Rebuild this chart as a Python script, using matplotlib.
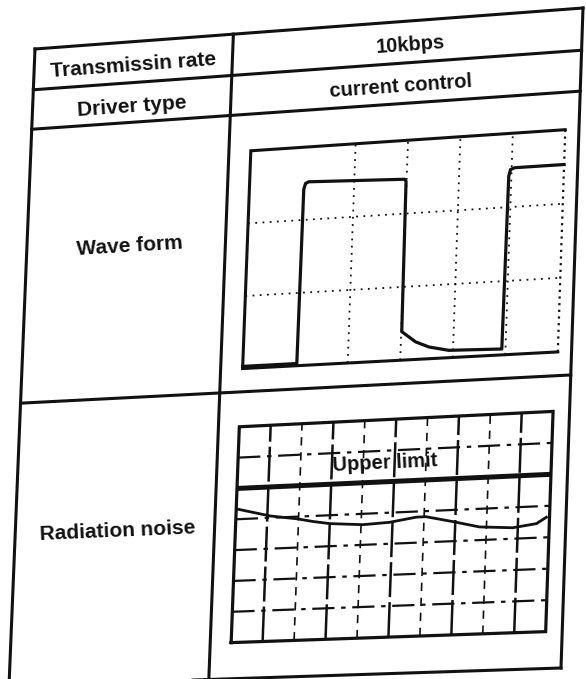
import numpy as np
import matplotlib
matplotlib.use("Agg")
import matplotlib.pyplot as plt
import matplotlib.transforms as mtransforms
from matplotlib.lines import Line2D

# ---------------- data ----------------
row_labels = ["Transmissin rate", "Driver type", "Wave form", "Radiation noise"]
header_values = ["10kbps", "current control"]

# waveform, oscilloscope divisions (6 x 3)
wave_t = [0.0, 1.03, 1.04, 1.07, 1.13, 2.96, 2.99, 3.01, 3.28, 3.54, 3.92, 4.93, 4.95, 4.98, 5.06, 6.0]
wave_v = [0.03, 0.03, 2.42, 2.50, 2.52, 2.47, 2.44, 0.39, 0.24, 0.16, 0.10, 0.08, 2.42, 2.51, 2.53, 2.53]

# radiation noise, grid divisions (10 x 7)
noise_x = [0.03, 1.09, 1.95, 2.47, 3.0, 4.06, 4.9, 5.76, 6.06, 6.91, 7.78, 8.84, 9.59, 9.9]
noise_y = [4.33, 4.06, 3.93, 3.82, 3.73, 3.65, 3.69, 3.82, 3.82, 3.63, 3.42, 3.35, 3.45, 3.64]
upper_limit = 5.0
upper_label = "Upper limit"

# ---------------- figure ----------------
W, H = 586, 679
fig = plt.figure(figsize=(W / 100, H / 100), dpi=100)
fig.patch.set_facecolor("white")
INK = "#111111"
FONT = "Liberation Sans"


class TableWarp(mtransforms.Transform):
    """Bilinear map from table coords (u, v) in [0,1]^2 to figure fraction."""
    input_dims = 2
    output_dims = 2
    is_separable = False
    has_inverse = False

    def __init__(self, corners):
        super().__init__()
        self.c = np.asarray(corners, float)

    def transform_non_affine(self, values):
        values = np.asarray(values, float)
        u = values[..., 0]
        v = values[..., 1]
        c = self.c
        x = (1-u)*(1-v)*c[0, 0] + u*(1-v)*c[1, 0] + (1-u)*v*c[2, 0] + u*v*c[3, 0]
        y = (1-u)*(1-v)*c[0, 1] + u*(1-v)*c[1, 1] + (1-u)*v*c[2, 1] + u*v*c[3, 1]
        return np.stack([x / W, 1 - y / H], axis=-1)


# page corners (pixel, y down): TL, TR, BL, BR
warp = TableWarp([(35, 49), (583, 8), (9, 686), (561, 668)])
table_tr = warp + fig.transFigure


def angle_at(u, v):
    p = table_tr.transform(np.array([[u - 0.01, v], [u + 0.01, v]]))
    d = p[1] - p[0]
    return np.degrees(np.arctan2(d[1], d[0]))


def tline(us, vs, lw=2.2, **kw):
    fig.add_artist(Line2D(us, vs, transform=table_tr, color=INK, lw=lw,
                          solid_capstyle="projecting", **kw))


# ---------------- table grid ----------------
col_div = 0.362
row_lines = [0.0, 0.064, 0.126, 0.556, 1.0]
for v in row_lines:
    tline([0, 1], [v, v])
for u in [0.0, col_div, 1.0]:
    tline([u, u], [0, 1])


def ttext(u, v, s, size=15):
    fig.text(u, v, s, transform=table_tr, ha="center", va="center",
             rotation=angle_at(u, v), rotation_mode="anchor",
             fontsize=size, family=FONT, weight="bold", color=INK)


ttext(0.181, 0.038, row_labels[0], 15)
ttext(0.181, 0.101, row_labels[1], 15)
ttext(0.188, 0.320, row_labels[2], 15)
ttext(0.185, 0.764, row_labels[3], 15)
ttext(0.686, 0.037, header_values[0], 14.5)
ttext(0.672, 0.100, header_values[1], 14.5)


def inset(u0, u1, v0, v1, xlim, ylim):
    ax = fig.add_axes([0.4, 0.1, 0.5, 0.3])
    ax.set_axis_off()
    ax.set_xlim(*xlim)
    ax.set_ylim(*ylim)
    box = mtransforms.Affine2D().scale(u1 - u0, -(v1 - v0)).translate(u0, v1)
    tr = ax.transScale + ax.transLimits + box + table_tr
    return ax, tr


# ---------------- waveform inset ----------------
wx0, wx1, wy0, wy1 = 0.0, 6.0, 0.0, 3.0
axw, trw = inset(0.402, 0.975, 0.183, 0.520, (wx0, wx1), (wy0, wy1))
dot = dict(transform=trw, clip_on=False, color=INK, lw=1.3, ls=(0, (1, 3)))
for yy in [1, 2]:
    axw.plot([wx0, wx1], [yy, yy], **dot)
for xx in [2, 3, 4, 5]:
    axw.plot([xx, xx], [wy0, wy1], **dot)
axw.plot([wx1, wx1], [wy0, wy1], transform=trw, clip_on=False, color=INK,
         lw=1.6, ls=(0, (1, 2)))
axw.plot([wx1, wx0, wx0, wx1], [wy1, wy1, wy0, wy0], transform=trw,
         clip_on=False, color=INK, lw=2.2, solid_joinstyle="miter")
axw.plot(wave_t, wave_v, transform=trw, clip_on=False, color=INK, lw=2.3,
         solid_joinstyle="round")

# ---------------- radiation noise inset ----------------
nx0, nx1, ny0, ny1 = 0.0, 10.0, 0.0, 7.0
axn, trn = inset(0.400, 0.970, 0.610, 0.944, (nx0, nx1), (ny0, ny1))
for xx in range(1, 10):
    if xx % 2 == 1:
        axn.plot([xx, xx], [ny0, ny1], transform=trn, clip_on=False,
                 color=INK, lw=1.8, ls=(0, (14, 2)))
    else:
        axn.plot([xx, xx], [ny0, ny1], transform=trn, clip_on=False,
                 color=INK, lw=1.2, ls=(0, (5, 4)))
for yy in [1, 2, 3, 4, 6]:
    axn.plot([nx0, nx1], [yy, yy], transform=trn, clip_on=False,
             color=INK, lw=1.6, ls=(0, (10, 3, 2, 3)))
axn.plot([nx0, nx1], [upper_limit, upper_limit], transform=trn,
         clip_on=False, color=INK, lw=3.6, solid_capstyle="butt")
axn.plot([nx0, nx1, nx1, nx0, nx0], [ny0, ny0, ny1, ny1, ny0], transform=trn,
         clip_on=False, color=INK, lw=2.3, solid_joinstyle="miter")
axn.plot(noise_x, noise_y, transform=trn, clip_on=False, color=INK, lw=2.0,
         solid_joinstyle="round")
ul_u = 0.400 + 0.47 * 0.570
ul_v = 0.944 - 0.80 * 0.334
axn.text(4.7, 5.6, upper_label, transform=trn, ha="center", va="center",
         rotation=angle_at(ul_u, ul_v), rotation_mode="anchor",
         fontsize=14.5, family=FONT, weight="bold", color=INK, zorder=5)

fig.savefig("out.png", dpi=100, facecolor="white")
